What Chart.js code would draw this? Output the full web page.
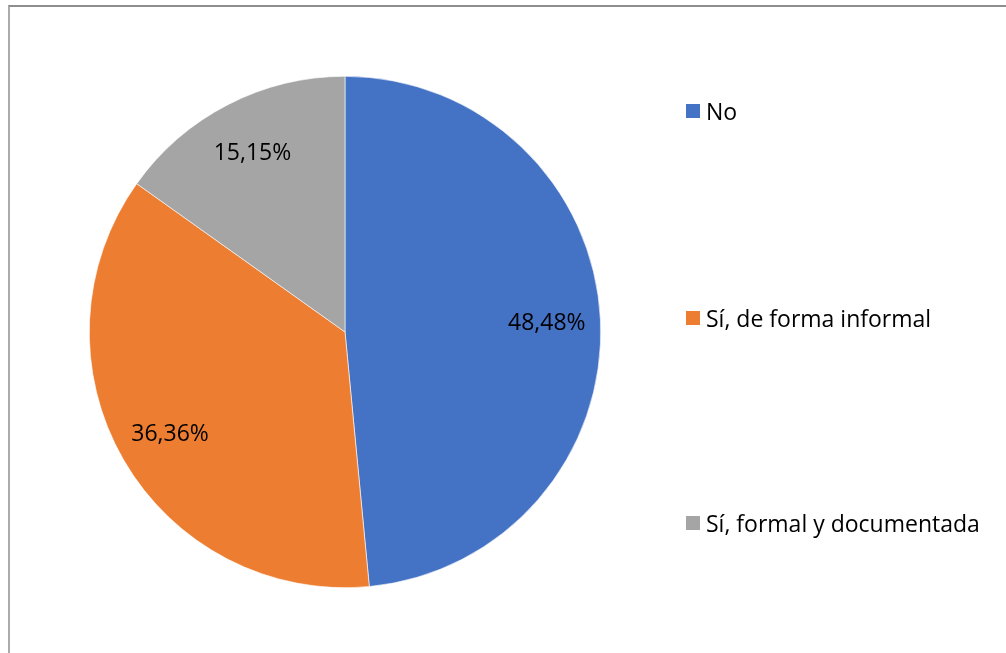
<!DOCTYPE html>
<html lang="es">
<head>
  <meta charset="UTF-8" />
  <title>Gráfico circular</title>
  <script src="https://cdn.jsdelivr.net/npm/chart.js"></script>
  <style>
    html, body {
      margin: 0;
      padding: 0;
      background: #ffffff;
    }
    .chart-container {
      position: relative;
      width: 1006px;
      height: 653px;
    }
    .frame {
      position: absolute;
      left: 8px;
      top: 5px;
      right: 0;
      bottom: 0;
      border-top: 2px solid #8e8e8e;
      border-left: 2px solid #ababab;
      pointer-events: none;
    }
  </style>
</head>
<body>
  <div class="chart-container">
    <canvas id="pieChart" width="1006" height="653"></canvas>
    <div class="frame"></div>
  </div>

  <script>
    const labels = ['No', 'Sí, de forma informal', 'Sí, formal y documentada'];
    const values = [48.48, 36.36, 15.15];
    const colors = ['#4472C4', '#ED7D31', '#A5A5A5'];

    const FONT = '"Open Sans", "Noto Sans", sans-serif';

    // Percent labels inside each slice
    const sliceLabels = {
      id: 'sliceLabels',
      afterDatasetsDraw(chart) {
        const ctx = chart.ctx;
        const meta = chart.getDatasetMeta(0);
        ctx.save();
        ctx.font = '23px ' + FONT;
        ctx.fillStyle = '#000';
        ctx.textAlign = 'center';
        ctx.textBaseline = 'middle';
        meta.data.forEach((arc, i) => {
          const p = arc.getProps(['x', 'y', 'startAngle', 'endAngle', 'outerRadius'], true);
          const mid = (p.startAngle + p.endAngle) / 2;
          const r = p.outerRadius * 0.79;
          const txt = values[i].toFixed(2).replace('.', ',') + '%';
          ctx.fillText(txt, p.x + Math.cos(mid) * r, p.y + Math.sin(mid) * r + 1);
        });
        ctx.restore();
      }
    };

    // Legend on the right, spaced like the original
    const sideLegend = {
      id: 'sideLegend',
      afterDraw(chart) {
        const ctx = chart.ctx;
        const rows = [111, 318, 523];
        ctx.save();
        ctx.font = '23px ' + FONT;
        ctx.textBaseline = 'middle';
        labels.forEach((lab, i) => {
          ctx.fillStyle = colors[i];
          ctx.fillRect(686, rows[i] - 7, 14, 14);
          ctx.fillStyle = '#000';
          ctx.fillText(lab, 706, rows[i] + 2);
        });
        ctx.restore();
      }
    };

    new Chart(document.getElementById('pieChart'), {
      type: 'pie',
      data: {
        labels: labels,
        datasets: [{
          data: values,
          backgroundColor: colors,
          borderColor: '#ffffff',
          borderWidth: 0.6
        }]
      },
      options: {
        responsive: false,
        animation: false,
        layout: {
          padding: { left: 89, right: 405, top: 76, bottom: 65 }
        },
        plugins: {
          legend: { display: false },
          tooltip: { enabled: false }
        }
      },
      plugins: [sliceLabels, sideLegend]
    });
  </script>
</body>
</html>
